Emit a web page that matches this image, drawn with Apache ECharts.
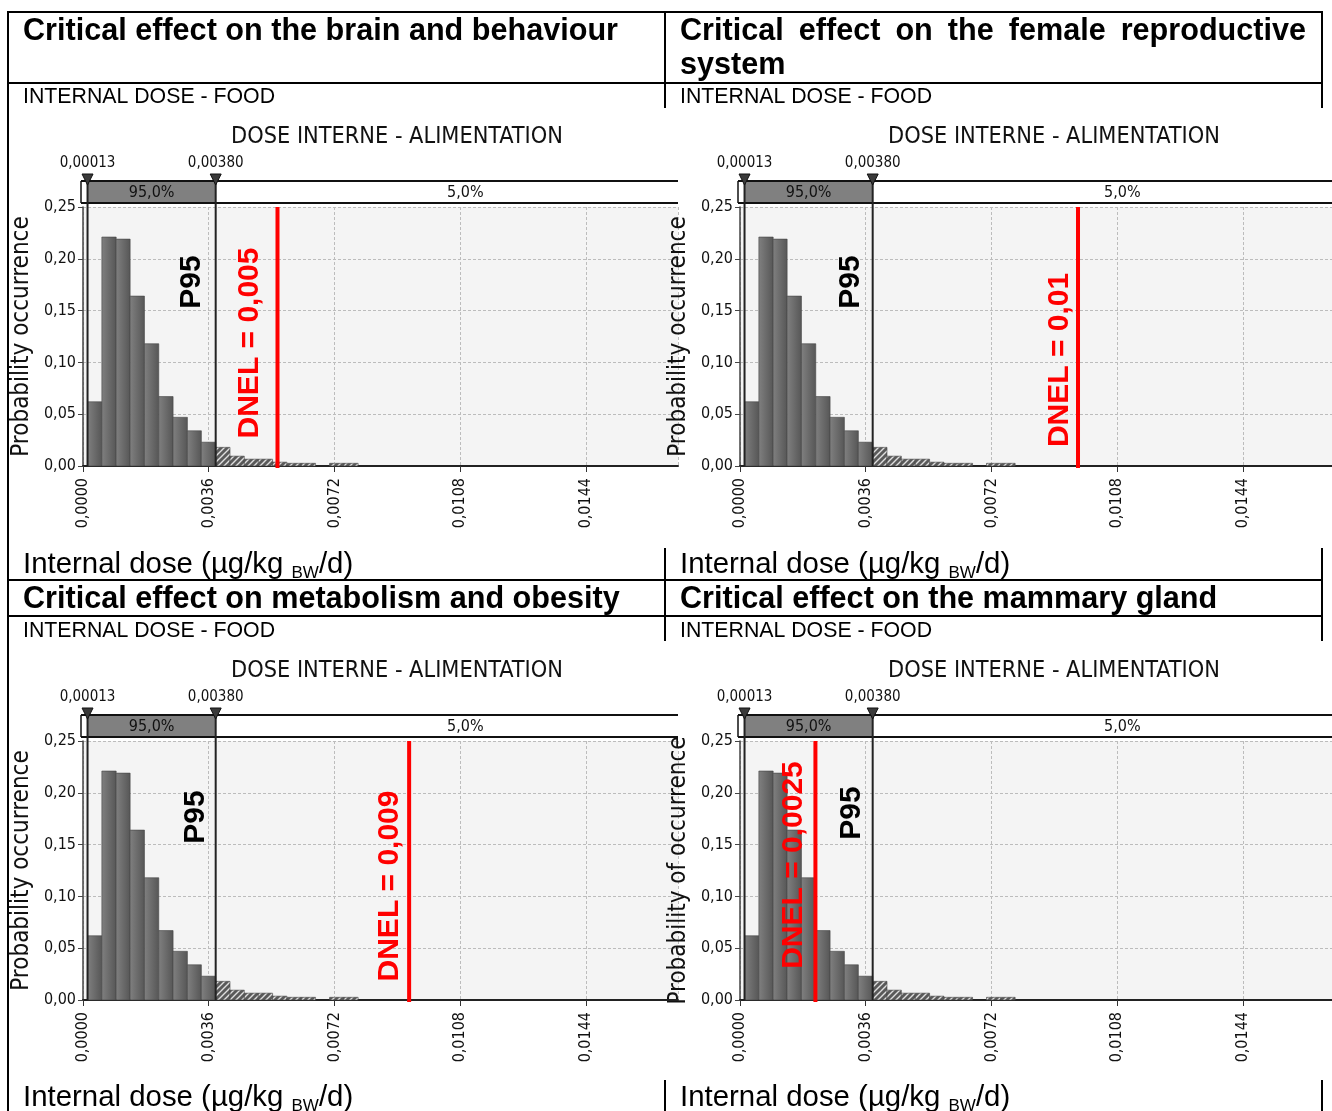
<!DOCTYPE html>
<html>
<head>
<meta charset="utf-8">
<script src="https://cdn.jsdelivr.net/npm/echarts@6/dist/echarts.min.js"></script>
<style>
  html, body { margin: 0; padding: 0; background: #fff; }
  #chart { width: 1332px; height: 1111px; }
</style>
</head>
<body>
<div id="chart"></div>
<script>
// same simulated internal dose distribution in the four panels
var binEdges = [0.00013, 0.00054, 0.00095, 0.00135, 0.00176, 0.00217, 0.00258, 0.00299, 0.00339, 0.00380,
  0.00421, 0.00462, 0.00502, 0.00543, 0.00584, 0.00625, 0.00666, 0.00706, 0.00747, 0.00788];
var binProb = [0.062, 0.221, 0.219, 0.164, 0.118, 0.067, 0.047, 0.034, 0.023,
  0.018, 0.0095, 0.0066, 0.0066, 0.0037, 0.0026, 0.0026, 0, 0.0026, 0.0026];
var pLow = 0.00013, pHigh = 0.00380, bandEnd = 0.0181;
var pLowLabel = '0,00013', pHighLabel = '0,00380';
var bandShares = ['95,0%', '5,0%'];
var xTickStep = 0.0036, xMax = 0.01704;
var yTickStep = 0.05, yMax = 0.25;

var effectTitles = ['Critical effect on the brain and behaviour', 'Critical effect on the female reproductive system',
  'Critical effect on metabolism and obesity', 'Critical effect on the mammary gland'];
var dnelLabels = ['DNEL = 0,005', 'DNEL = 0,01', 'DNEL = 0,009', 'DNEL = 0,0025'];
var dnelLine = [0.00557, 0.00968, 0.00934, 0.00216];
var yNames = ['Probability occurrence', 'Probability occurrence', 'Probability occurrence', 'Probability of occurrence'];
var chartTitle = 'DOSE INTERNE - ALIMENTATION';
var subTitle = 'INTERNAL DOSE - FOOD';

var CF = '"DejaVu Sans Condensed", "DejaVu Sans", sans-serif';
var DF = '"Liberation Sans", Arial, sans-serif';

// layout of each panel: offsets + label nudges
var panels = [
  { ox: 0, oy: 0, p95dx: -24, p95dy: 75, dnDx: -28, dnY: 343 },
  { ox: 657, oy: 0, p95dx: -22, p95dy: 75, dnDx: -18, dnY: 360 },
  { ox: 0, oy: 534, p95dx: -20, p95dy: 76, dnDx: -19, dnY: 352 },
  { ox: 657, oy: 534, p95dx: -21, p95dy: 72, dnDx: -22, dnY: 331 }
];

function comma(v, d) { return v.toFixed(d).replace('.', ','); }

function makeHatch() {
  var c = document.createElement('canvas');
  c.width = 6; c.height = 6;
  var g = c.getContext('2d');
  g.fillStyle = '#5a5a5a';
  g.fillRect(0, 0, 6, 6);
  g.strokeStyle = '#dedede';
  g.lineWidth = 1.4;
  g.beginPath();
  g.moveTo(-1, 7); g.lineTo(7, -1);
  g.moveTo(-4, 4); g.lineTo(4, -4);
  g.moveTo(2, 10); g.lineTo(10, 2);
  g.stroke();
  return c;
}
var hatch = { type: 'pattern', image: makeHatch(), repeat: 'repeat' };
var barGrad = { type: 'linear', x: 0, y: 0, x2: 1, y2: 0,
  colorStops: [{ offset: 0, color: '#808080' }, { offset: 1, color: '#565656' }] };

var histData = binProb.map(function (p, k) { return [binEdges[k], binEdges[k + 1], p]; });

function renderBar(params, api) {
  var x0 = api.value(0), x1 = api.value(1), h = api.value(2);
  if (!h) return null;
  var a = api.coord([x0, h]), b = api.coord([x1, 0]);
  var tail = x0 >= pHigh - 1e-9;
  return {
    type: 'rect',
    shape: { x: a[0], y: a[1], width: b[0] - a[0], height: b[1] - a[1] },
    style: { fill: tail ? hatch : barGrad, stroke: '#454545', lineWidth: 0.6 }
  };
}

function bandRenderer(i) {
  var p = panels[i];
  return function (params, api) {
    var cs = params.coordSys;
    var T = cs.y, L = cs.x, R = cs.x + cs.width, B = cs.y + cs.height;
    var xa = api.coord([pLow, 0])[0], xb = api.coord([pHigh, 0])[0];
    var xe = api.coord([bandEnd, 0])[0];
    var xd = api.coord([dnelLine[i], 0])[0];
    var top = T - 26, h = 22;
    function txt(s, x, y, size) {
      return { type: 'text', x: x, y: y, style: { text: s, fontFamily: CF, fontSize: size, fill: '#111', align: 'center', verticalAlign: 'middle' } };
    }
    function line(x1, y1, x2, y2, w, c) {
      return { type: 'line', shape: { x1: x1, y1: y1, x2: x2, y2: y2 }, style: { stroke: c || '#111', lineWidth: w } };
    }
    function tri(x) {
      return { type: 'polygon', shape: { points: [[x - 5.5, top - 7], [x + 5.5, top - 7], [x, top + 4]] },
        style: { fill: '#3a3a3a', stroke: '#111', lineWidth: 1 } };
    }
    var children = [
      { type: 'rect', shape: { x: L - 2, y: top, width: R - L + 2, height: h }, style: { fill: '#fff' } },
      { type: 'rect', shape: { x: xa, y: top, width: xb - xa, height: h }, style: { fill: '#808080' } },
      line(L - 2, top, R, top, 2), line(L - 2, top + h, R, top + h, 2), line(L - 2, top, L - 2, top + h, 1.5),
      txt(bandShares[0], (xa + xb) / 2, top + h / 2 + 1, 16),
      txt(bandShares[1], (xb + xe) / 2, top + h / 2 + 1, 16),
      line(xa, top, xa, B, 2, '#222'), line(xb, top, xb, B, 2, '#222'),
      tri(xa), tri(xb),
      txt(pLowLabel, xa, top - 18, 15), txt(pHighLabel, xb, top - 18, 15),
      line(xd, T, xd, B + 2, 4, '#ff0000'),
      { type: 'text', x: xb + p.p95dx, y: T + p.p95dy, rotation: Math.PI / 2,
        style: { text: 'P95', fontFamily: DF, fontWeight: 'bold', fontSize: 30, fill: '#000', align: 'center', verticalAlign: 'middle' } },
      { type: 'text', x: xd + p.dnDx, y: p.dnY + p.oy, rotation: Math.PI / 2,
        style: { text: dnelLabels[i], fontFamily: DF, fontWeight: 'bold', fontSize: 30, fill: '#ff0000', align: 'center', verticalAlign: 'middle' } }
    ];
    return { type: 'group', children: children };
  };
}

var grids = [], xAxes = [], yAxes = [], series = [];
panels.forEach(function (p, i) {
  grids.push({ left: 83 + p.ox, top: 207 + p.oy, width: 595, height: 259, show: true,
    backgroundColor: '#f4f4f4', borderWidth: 0, containLabel: false, outerBoundsMode: 'none' });
  xAxes.push({ type: 'value', gridIndex: i, min: 0, max: xMax, interval: xTickStep,
    axisLine: { show: true, onZero: false, lineStyle: { color: '#222', width: 2 } },
    axisTick: { show: true, length: 6, lineStyle: { color: '#333' } },
    axisLabel: { rotate: 90, margin: 12, showMaxLabel: false, fontFamily: CF, fontSize: 16, color: '#111',
      formatter: function (v) { return comma(v, 4); } },
    splitLine: { show: true, lineStyle: { type: [3, 2], color: '#bcbcbc', width: 1 } } });
  yAxes.push({ type: 'value', gridIndex: i, min: 0, max: yMax, interval: yTickStep,
    name: yNames[i], nameLocation: 'middle', nameGap: 49, nameMoveOverlap: false,
    nameTextStyle: { fontFamily: CF, fontSize: 24, color: '#111' },
    axisLine: { show: true, lineStyle: { color: '#444', width: 1.5 } },
    axisTick: { show: true, length: 5, lineStyle: { color: '#444' } },
    axisLabel: { margin: 7, fontFamily: CF, fontSize: 16, color: '#111',
      formatter: function (v) { return comma(v, 2); } },
    splitLine: { show: true, lineStyle: { type: [3, 2], color: '#bcbcbc', width: 1 } } });
  series.push({ type: 'custom', name: 'hist' + i, xAxisIndex: i, yAxisIndex: i, data: histData,
    encode: { x: [0, 1], y: 2 }, renderItem: renderBar, silent: true, z: 2 });
  series.push({ type: 'custom', name: 'band' + i, xAxisIndex: i, yAxisIndex: i, data: [[pLow, 0]],
    encode: { x: 0, y: 1 }, renderItem: bandRenderer(i), silent: true, clip: false, z: 5 });
});

// document table around the four charts
var measureCtx = document.createElement('canvas').getContext('2d');
function justify(text, size, x0, x1, y) {
  measureCtx.font = 'bold ' + size + 'px "Liberation Sans"';
  var words = text.split(' ');
  var ws = words.map(function (w) { return measureCtx.measureText(w).width; });
  var gap = (x1 - x0 - ws.reduce(function (a, b) { return a + b; }, 0)) / (words.length - 1);
  var x = x0, out = [];
  words.forEach(function (w, k) {
    out.push({ type: 'text', x: x, y: y, style: { text: w, fontFamily: DF, fontWeight: 'bold', fontSize: size, fill: '#000', verticalAlign: 'middle' } });
    x += ws[k] + gap;
  });
  return out;
}
function hdr(s, x, y) {
  return { type: 'text', x: x, y: y, style: { text: s, fontFamily: DF, fontWeight: 'bold', fontSize: 30.6, fill: '#000', verticalAlign: 'middle' } };
}
function sub(s, x, y) {
  return { type: 'text', x: x, y: y, style: { text: s, fontFamily: DF, fontSize: 21.3, fill: '#000', verticalAlign: 'middle' } };
}
function xname(x, y) {
  return { type: 'text', x: x, y: y, style: { text: '{a|Internal dose (µg/kg }{s|BW}{a|/d)}', verticalAlign: 'middle',
    rich: { a: { fontFamily: DF, fontSize: 29.4, lineHeight: 34, verticalAlign: 'middle', fill: '#000' },
            s: { fontFamily: DF, fontSize: 17, lineHeight: 17, verticalAlign: 'bottom', fill: '#000' } } } };
}
function rule(x1, y1, x2, y2) {
  return { type: 'line', shape: { x1: x1, y1: y1, x2: x2, y2: y2 }, style: { stroke: '#000', lineWidth: 2 }, z: 10 };
}
var titleWords = effectTitles[1].split(' ');
var graphics = [
  rule(7, 12, 1323, 12), rule(8, 12, 8, 1111), rule(7, 83, 1323, 83), rule(7, 580, 1323, 580), rule(7, 616, 1323, 616),
  rule(665, 12, 665, 108), rule(1322, 12, 1322, 108),
  rule(665, 548, 665, 641), rule(1322, 548, 1322, 641),
  rule(665, 1080, 665, 1111), rule(1322, 1080, 1322, 1111),
  hdr(effectTitles[0], 23, 32),
  hdr(titleWords[titleWords.length - 1], 680, 66),
  hdr(effectTitles[2], 23, 600), hdr(effectTitles[3], 680, 600),
  sub(subTitle, 23, 97), sub(subTitle, 680, 97), sub(subTitle, 23, 631), sub(subTitle, 680, 631),
  xname(23, 565), xname(680, 565), xname(23, 1098), xname(680, 1098)
].concat(justify(titleWords.slice(0, -1).join(' '), 30.6, 680, 1306, 32));
panels.forEach(function (p) {
  graphics.push({ type: 'text', x: 397 + p.ox, y: 137 + p.oy,
    style: { text: chartTitle, fontFamily: CF, fontSize: 23.3, fill: '#111', align: 'center', verticalAlign: 'middle' } });
});

var chart = echarts.init(document.getElementById('chart'));
chart.setOption({
  animation: false,
  backgroundColor: '#fff',
  grid: grids,
  xAxis: xAxes,
  yAxis: yAxes,
  series: series,
  graphic: graphics
});
</script>
</body>
</html>
